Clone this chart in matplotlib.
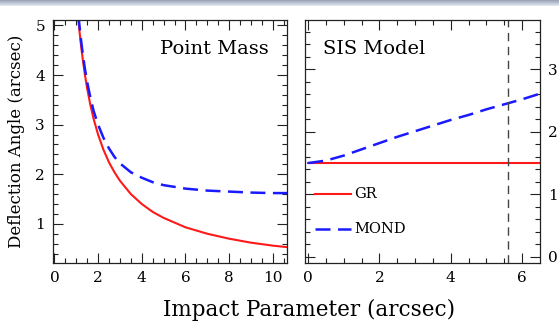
import numpy as np
import matplotlib
matplotlib.use('Agg')
import matplotlib.pyplot as plt
from matplotlib.ticker import MultipleLocator

plt.rcParams['font.family'] = ['DejaVu Serif']

# point mass panel (impact parameter in arcsec, deflection in arcsec)
pm_x = [1.1, 1.2, 1.3, 1.4, 1.5, 1.65, 1.8, 2.0, 2.25, 2.5, 2.75, 3.0, 3.5,
        4.0, 4.5, 5.0, 6.0, 7.0, 8.0, 9.0, 10.0, 10.65]
pm_gr = [5.09, 4.67, 4.31, 4.0, 3.73, 3.39, 3.11, 2.8, 2.49, 2.24, 2.04, 1.87,
         1.6, 1.4, 1.24, 1.12, 0.93, 0.8, 0.7, 0.62, 0.56, 0.53]
pm_mond = [5.2, 4.78, 4.42, 4.12, 3.86, 3.54, 3.27, 3.0, 2.73, 2.52, 2.35, 2.22,
           2.04, 1.93, 1.84, 1.78, 1.71, 1.67, 1.65, 1.63, 1.62, 1.62]

# SIS panel
sis_x = [0.0, 0.5, 1.0, 1.5, 2.0, 2.5, 3.0, 3.5, 4.0, 4.5, 5.0, 5.5, 6.0, 6.5]
sis_gr = [1.5] * len(sis_x)
sis_mond = [1.5, 1.54, 1.62, 1.72, 1.82, 1.92, 2.01, 2.1, 2.19, 2.27, 2.36,
            2.44, 2.52, 2.61]
sis_vline = 5.6

fig = plt.figure(figsize=(5.59, 3.21), dpi=100)

# gradient band at the top
band = fig.add_axes([0, 1 - 6 / 321, 1, 6 / 321])
grad = np.linspace(0, 1, 20).reshape(-1, 1)
band.imshow(grad, aspect='auto', cmap=matplotlib.colors.LinearSegmentedColormap.from_list(
    'b', ['#98a2b4', '#e3e9f2']), extent=[0, 1, 0, 1])
band.axis('off')

ax1 = fig.add_axes([53.3 / 559, 58 / 321, 233.7 / 559, 243 / 321])
ax2 = fig.add_axes([305 / 559, 58 / 321, 234.5 / 559, 243 / 321])

ax1.plot(pm_x, pm_gr, color='#ff1a1a', lw=1.5)
ax1.plot(pm_x, pm_mond, color='#1a1aff', lw=1.8, dashes=(6, 3))
ax1.set_xlim(-0.05, 10.65)
ax1.set_ylim(0.21, 5.11)
ax1.xaxis.set_major_locator(MultipleLocator(2))
ax1.xaxis.set_minor_locator(MultipleLocator(0.5))
ax1.yaxis.set_major_locator(MultipleLocator(1))
ax1.yaxis.set_minor_locator(MultipleLocator(0.2))
ax1.text(0.922, 0.88, 'Point Mass', transform=ax1.transAxes, ha='right',
         va='center', fontsize=14)
ax1.set_ylabel('Deflection Angle (arcsec)', fontsize=12, labelpad=7)

ax2.plot(sis_x, sis_gr, color='#ff1a1a', lw=1.5)
ax2.plot(sis_x, sis_mond, color='#1a1aff', lw=1.8, dashes=(6, 3))
ax2.axvline(sis_vline, color='#444444', lw=1, dashes=(6, 4))
ax2.set_xlim(-0.09, 6.49)
ax2.set_ylim(-0.1, 3.79)
ax2.xaxis.set_major_locator(MultipleLocator(2))
ax2.xaxis.set_minor_locator(MultipleLocator(0.5))
ax2.yaxis.set_major_locator(MultipleLocator(1))
ax2.yaxis.set_minor_locator(MultipleLocator(0.2))
ax2.text(0.078, 0.88, 'SIS Model', transform=ax2.transAxes, ha='left',
         va='center', fontsize=14)

# legend drawn by hand in data space
ax2.plot([0.2, 1.2], [1.0, 1.0], color='#ff1a1a', lw=1.5)
ax2.text(1.3, 1.0, 'GR', va='center', fontsize=10.5)
ax2.plot([0.2, 1.2], [0.45, 0.45], color='#1a1aff', lw=1.8, dashes=(6, 3))
ax2.text(1.3, 0.45, 'MOND', va='center', fontsize=10.5)

for ax in (ax1, ax2):
    ax.tick_params(which='both', direction='in', top=True, right=True,
                   labelsize=11, color='#222222', width=0.8)
    ax.tick_params(which='major', length=7, pad=6)
    ax.tick_params(which='minor', length=3.6)
    for s in ax.spines.values():
        s.set_color('#222222')
        s.set_linewidth(0.9)
ax2.tick_params(axis='y', labelleft=False, labelright=True, pad=6)

fig.text(0.553, 0.033, 'Impact Parameter (arcsec)', ha='center', va='center',
         fontsize=15.5)

fig.savefig('out.png', dpi=100)
